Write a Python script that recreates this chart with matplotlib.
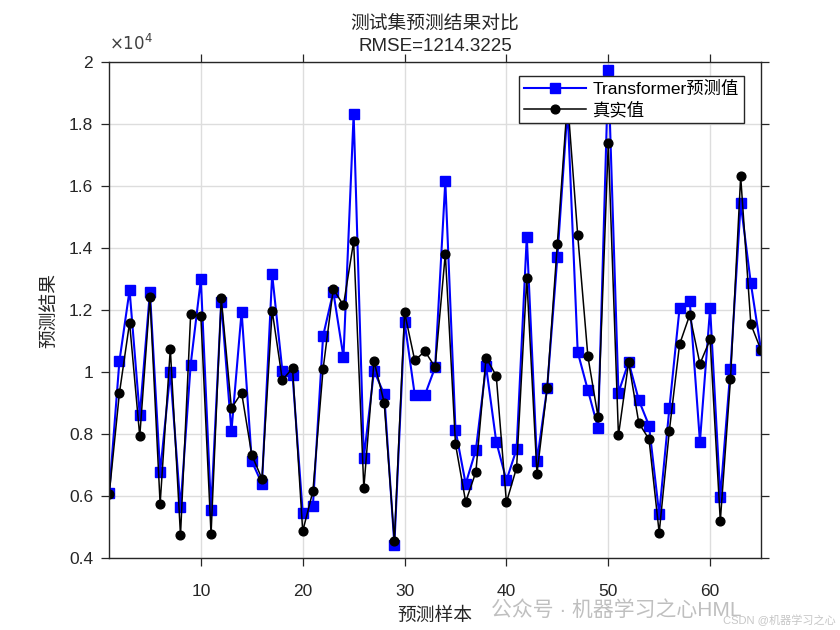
import matplotlib
matplotlib.use('Agg')
import matplotlib.pyplot as plt
from matplotlib.ticker import FuncFormatter, MultipleLocator
import numpy as np

sample_idx = np.arange(1, 66)
pred_vals = np.array([
    0.610, 1.035, 1.265, 0.861, 1.259, 0.677, 1.000, 0.564, 1.025, 1.300,
    0.555, 1.226, 0.809, 1.196, 0.713, 0.640, 1.316, 1.005, 0.991, 0.546,
    0.569, 1.117, 1.260, 1.049, 1.833, 0.724, 1.005, 0.929, 0.444, 1.163,
    0.927, 0.927, 1.016, 1.616, 0.814, 0.640, 0.749, 1.020, 0.776, 0.651,
    0.752, 1.438, 0.713, 0.949, 1.371, 1.850, 1.065, 0.942, 0.820, 1.976,
    0.934, 1.033, 0.910, 0.828, 0.542, 0.884, 1.207, 1.229, 0.776, 1.207,
    0.596, 1.011, 1.545, 1.287, 1.071]) * 1e4
true_vals = np.array([
    0.607, 0.932, 1.160, 0.793, 1.242, 0.575, 1.076, 0.474, 1.189, 1.180,
    0.477, 1.240, 0.884, 0.934, 0.733, 0.656, 1.199, 0.975, 1.013, 0.487,
    0.616, 1.010, 1.269, 1.216, 1.422, 0.626, 1.036, 0.902, 0.455, 1.193,
    1.038, 1.068, 1.016, 1.382, 0.768, 0.582, 0.678, 1.047, 0.989, 0.580,
    0.692, 1.303, 0.673, 0.949, 1.414, 1.880, 1.442, 1.051, 0.855, 1.739,
    0.796, 1.033, 0.836, 0.784, 0.482, 0.812, 1.090, 1.185, 1.027, 1.106,
    0.520, 0.978, 1.632, 1.155, 1.071]) * 1e4
rmse_text = 'RMSE=1214.3225'
legend_labels = ['Transformer预测值', '真实值']

plt.rcParams['font.family'] = ['Liberation Sans', 'Noto Sans CJK SC', 'DejaVu Sans']
plt.rcParams['axes.unicode_minus'] = False

fig = plt.figure(figsize=(8.4, 6.3), dpi=100)
ax = fig.add_axes([0.130, 0.114, 0.776, 0.787])

ax.plot(sample_idx, pred_vals, '-s', color='#0000ff', lw=1.5, ms=7,
        mfc='#0000ff', mec='#0000ff', label=legend_labels[0])
ax.plot(sample_idx, true_vals, '-o', color='black', lw=1.1, ms=6.3,
        mfc='black', mec='black', label=legend_labels[1])

ax.set_xlim(1, 65)
ax.set_ylim(4000, 20000)
ax.xaxis.set_major_locator(MultipleLocator(10))
ax.yaxis.set_major_locator(MultipleLocator(2000))
ax.yaxis.set_major_formatter(FuncFormatter(lambda v, p: f'{v / 1e4:g}'))
ax.text(0.0, 1.018, r'$\times10^{4}$', transform=ax.transAxes, fontsize=12,
        color='#404040', ha='left', va='bottom')

ax.tick_params(direction='out', top=True, right=True, length=5.5, width=0.9,
               labelsize=12.5, colors='#262626')
ax.tick_params(axis='x', pad=13)
ax.tick_params(axis='y', pad=6)
for s in ax.spines.values():
    s.set_color('#262626')
    s.set_linewidth(1.0)
ax.grid(True, color='#dddddd', lw=1.0)
ax.set_axisbelow(True)

ax.set_xlabel('预测样本', fontsize=13.5, labelpad=6, color='#262626')
ax.set_ylabel('预测结果', fontsize=13.5, labelpad=8, color='#262626')
ax.set_title('测试集预测结果对比\n' + rmse_text, fontsize=13.5, color='#262626',
             pad=8, linespacing=1.45)

leg = ax.legend(loc='upper right', bbox_to_anchor=(0.974, 0.973), fontsize=12.5,
                fancybox=False, edgecolor='#262626', framealpha=1,
                handlelength=3.6, borderpad=0.3, labelspacing=0.25,
                handletextpad=0.35, borderaxespad=0)
leg.get_frame().set_linewidth(1.0)

# watermark
fig.text(0.585, 0.022, '公众号 · 机器学习之心HML', fontsize=15, color='#b0b0b0', alpha=0.8)
fig.text(0.995, 0.006, 'CSDN @机器学习之心', fontsize=8, color='#b8b8b8', alpha=0.8,
         ha='right', va='bottom')

fig.savefig('out.png', dpi=100)
